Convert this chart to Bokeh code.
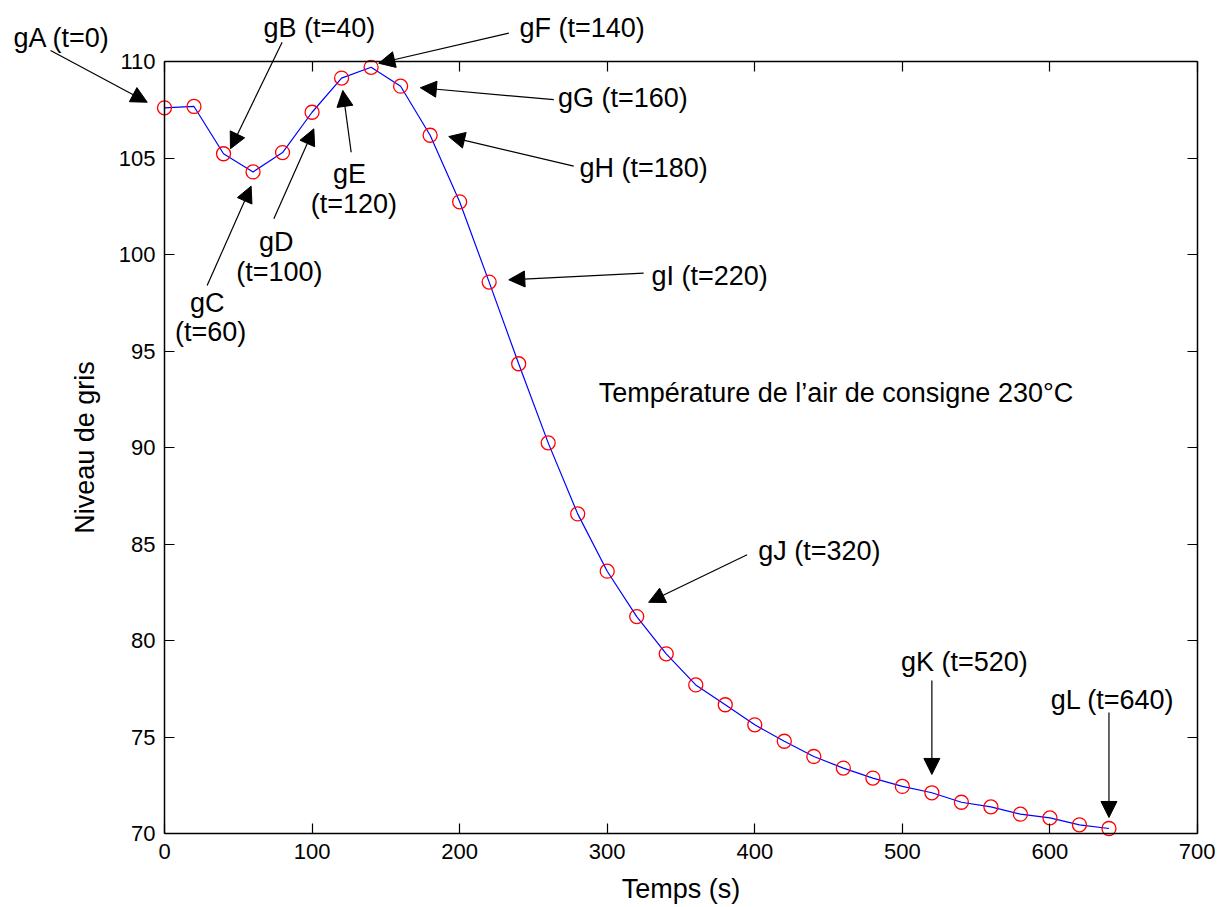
from bokeh.plotting import figure
from bokeh.models import Label, Arrow, NormalHead, LinearAxis, FixedTicker, Range1d
from bokeh.embed import file_html
from bokeh.resources import INLINE

# ---- data ----
temps = [0, 20, 40, 60, 80, 100, 120, 140, 160, 180, 200, 220, 240, 260, 280, 300,
         320, 340, 360, 380, 400, 420, 440, 460, 480, 500, 520, 540, 560, 580, 600,
         620, 640]
niveau_gris = [107.6, 107.67, 105.22, 104.28, 105.28, 107.37, 109.14, 109.7, 108.72,
               106.18, 102.73, 98.57, 94.34, 90.24, 86.56, 83.59, 81.24, 79.31, 77.7,
               76.67, 75.63, 74.78, 73.99, 73.39, 72.87, 72.44, 72.11, 71.62, 71.38,
               71.0, 70.81, 70.45, 70.26]
x_ticks = [0, 100, 200, 300, 400, 500, 600, 700]
y_ticks = [70, 75, 80, 85, 90, 95, 100, 105, 110]
x_lim = (0, 700)
y_lim = (70, 110)

# annotation texts (text, x, y) in data units
labels = [
    ("gA (t=0)", -69.6, 111.24),
    ("gB (t=40)", 105.0, 111.76),
    ("gC", 28.9, 97.48), ("(t=60)", 31.2, 95.96),
    ("gD", 75.7, 100.64), ("(t=100)", 77.8, 99.07),
    ("gE", 125.3, 104.15), ("(t=120)", 128.3, 102.64),
    ("gF (t=140)", 283.0, 111.76),
    ("gG (t=160)", 310.6, 108.11),
    ("gH (t=180)", 324.7, 104.46),
    ("gI (t=220)", 369.4, 98.91),
    ("gJ (t=320)", 443.8, 84.66),
    ("gK (t=520)", 542.0, 78.9),
    ("gL (t=640)", 642.5, 76.94),
]
# arrows (x_start, y_start, x_end, y_end) in data units
arrows = [
    (-77.2, 110.57, -11.7, 107.89),
    (79.7, 111.0, 44.7, 105.48),
    (28.9, 98.39, 58.7, 103.54),
    (74.1, 101.85, 101.2, 106.51),
    (126.5, 105.30, 120.8, 108.50),
    (233.3, 111.47, 145.2, 109.91),
    (263.8, 108.02, 173.4, 108.64),
    (277.3, 104.58, 192.6, 106.11),
    (324.7, 99.03, 233.3, 98.69),
    (394.8, 84.44, 328.1, 81.98),
    (520, 77.93, 520, 73.06),
    (640, 76.27, 640, 70.83),
]

FONT = "Liberation Sans"
W, H = 1215, 905
# axes box placement on the canvas (pixels)
BOX_L, BOX_R, BOX_T, BOX_B = 164, 1197, 61, 833
sx = (BOX_R - BOX_L) / (x_lim[1] - x_lim[0])
sy = (BOX_B - BOX_T) / (y_lim[1] - y_lim[0])
xr = Range1d(x_lim[0] - BOX_L / sx, x_lim[1] + (W - BOX_R) / sx)
yr = Range1d(y_lim[0] - (H - BOX_B) / sy, y_lim[1] + BOX_T / sy)

p = figure(output_backend="svg", toolbar_location=None, width=W, height=H,
           min_border=0, x_range=xr, y_range=yr,
           x_axis_location=None, y_axis_location=None,
           background_fill_color="white", border_fill_color="white")
p.title.visible = False
p.grid.visible = False
p.outline_line_color = None

p.line(temps, niveau_gris, line_color="blue", line_width=1.2)
p.scatter(temps, niveau_gris, marker="circle", size=14, fill_color=None,
          line_color="red", line_width=1.3)

def make_axis(ticks, loc, bounds, show_labels=True):
    ax = LinearAxis(ticker=FixedTicker(ticks=ticks), fixed_location=loc, bounds=bounds)
    ax.major_tick_in = 10
    ax.major_tick_out = 0
    ax.minor_tick_line_color = None
    ax.axis_line_color = "black"
    ax.axis_line_width = 1.5
    ax.major_tick_line_color = "black"
    ax.major_tick_line_width = 1.2
    ax.major_label_text_font = FONT
    ax.major_label_text_font_size = "22px"
    ax.major_label_text_color = "black"
    ax.axis_label_text_font = FONT
    ax.axis_label_text_font_size = "27px"
    ax.axis_label_text_font_style = "normal"
    ax.axis_label_text_color = "black"
    if not show_labels:
        ax.major_label_overrides = {t: "" for t in ticks}
    return ax

bottom = make_axis(x_ticks, y_lim[0], x_lim)
bottom.axis_label = "Temps (s)"
bottom.major_label_standoff = 10
bottom.axis_label_standoff = 12
p.add_layout(bottom, "below")

left = make_axis(y_ticks, x_lim[0], y_lim)
left.axis_label = "Niveau de gris"
left.major_label_standoff = 9
left.axis_label_standoff = 16
p.add_layout(left, "left")

top = make_axis(x_ticks, y_lim[1], x_lim, show_labels=False)
p.add_layout(top, "above")
right = make_axis(y_ticks, x_lim[1], y_lim, show_labels=False)
p.add_layout(right, "right")

for txt, x, y in labels:
    p.add_layout(Label(x=x, y=y, text=txt, text_align="center", text_baseline="middle",
                       text_font=FONT, text_font_size="27px", text_color="black"))

p.add_layout(Label(x=294.2, y=92.8, text="Température de l\u2019air de consigne 230°C",
                   text_align="left", text_baseline="middle",
                   text_font=FONT, text_font_size="27px", text_color="black"))

for xs, ys, xe, ye in arrows:
    p.add_layout(Arrow(end=NormalHead(size=16, fill_color="black", line_color="black"),
                       x_start=xs, y_start=ys, x_end=xe, y_end=ye,
                       line_color="black", line_width=1.2))

open("out.html", "w").write(file_html(p, INLINE))
